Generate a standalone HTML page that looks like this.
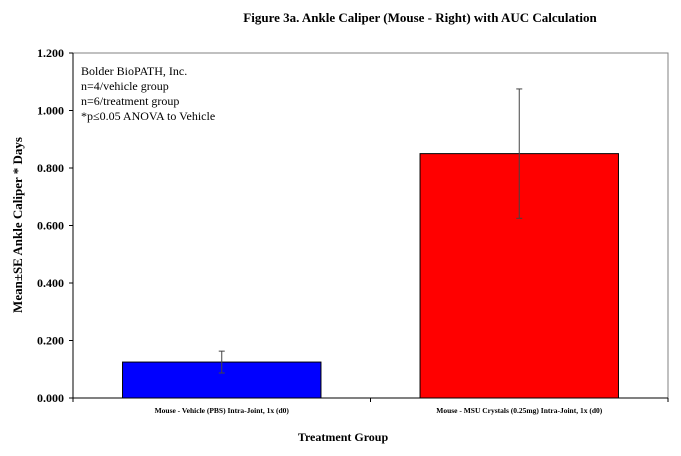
<!DOCTYPE html>
<html><head><meta charset="utf-8"><style>
body{margin:0;background:#fff;}
svg text{font-family:"Liberation Serif",serif;}
</style></head><body>
<svg width="681" height="451" viewBox="0 0 681 451" xmlns="http://www.w3.org/2000/svg">
<text x="420" y="22" text-anchor="middle" font-size="13" font-weight="bold">Figure 3a.  Ankle Caliper (Mouse - Right) with AUC Calculation</text>
<rect x="73" y="53" width="595" height="345" fill="#fff" stroke="#808080" stroke-width="1"/>
<g id="yaxis"></g>
<g id="bars"></g>
<text x="343" y="441" text-anchor="middle" font-size="12" font-weight="bold">Treatment Group</text>
<text transform="translate(22,225) rotate(-90)" text-anchor="middle" font-size="13" font-weight="bold">Mean±SE Ankle Caliper * Days</text>
<g font-size="12">
<text x="81" y="75">Bolder BioPATH, Inc.</text>
<text x="81" y="90">n=4/vehicle group</text>
<text x="81" y="105">n=6/treatment group</text>
<text x="81" y="120">*p≤0.05 ANOVA to Vehicle</text>
</g>
</svg>
<script>
const categories=["Mouse - Vehicle (PBS) Intra-Joint, 1x (d0)","Mouse - MSU Crystals (0.25mg) Intra-Joint, 1x (d0)"];
const values=[0.125,0.85];
const errors=[0.038,0.225];
const colors=["#0000ff","#ff0000"];
const yTicks=[0,0.2,0.4,0.6,0.8,1.0,1.2];
const NS="http://www.w3.org/2000/svg";
const L=73,R=668,T=53,B=398,ymax=1.2;
const y=v=>B-(v/ymax)*(B-T);
const band=(R-L)/categories.length;
const ya=document.getElementById('yaxis'),bg=document.getElementById('bars');
function mk(tag,at,p){const e=document.createElementNS(NS,tag);for(const k in at)e.setAttribute(k,at[k]);p.appendChild(e);return e;}
yTicks.forEach(t=>{
 const l=mk('line',{x1:L-4,x2:L,y1:y(t),y2:y(t),stroke:'#000'},ya);
 
 
 const tx=mk('text',{x:L-9,y:y(t)+4,'text-anchor':'end','font-size':'12','font-weight':'bold'},ya);
 tx.textContent=t.toFixed(3);
 
 
});
mk('line',{x1:L,x2:L,y1:T,y2:B,stroke:'#000'},ya);
mk('line',{x1:L,x2:R,y1:B,y2:B,stroke:'#000'},ya);
for(let i=0;i<=categories.length;i++){mk('line',{x1:L+band*i,x2:L+band*i,y1:B,y2:B+4,stroke:'#000'},ya);}
categories.forEach((c,i)=>{
 const bw=band*0.667,x0=L+band*i+(band-bw)/2,cx=L+band*(i+0.5);
 const r=mk('rect',{x:x0,y:y(values[i]),width:bw,height:B-y(values[i]),fill:colors[i],stroke:'#000','stroke-width':1},bg);
 
 
 const g=mk('g',{stroke:'#444','stroke-width':1},bg);
 
 
 mk('line',{x1:cx,x2:cx,y1:y(values[i]+errors[i]),y2:y(values[i]-errors[i])},g);
 mk('line',{x1:cx-3,x2:cx+3,y1:y(values[i]+errors[i]),y2:y(values[i]+errors[i])},g);
 mk('line',{x1:cx-3,x2:cx+3,y1:y(values[i]-errors[i]),y2:y(values[i]-errors[i])},g);
 const tx=mk('text',{x:cx,y:B+15,'text-anchor':'middle','font-size':'7.5','font-weight':'bold'},bg);
 tx.textContent=c;
 
 
});
</script>
</body></html>
